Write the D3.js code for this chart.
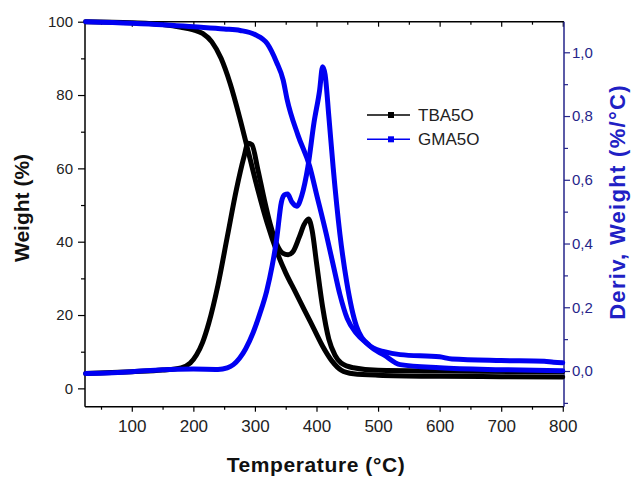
<!DOCTYPE html>
<html>
<head>
<meta charset="utf-8">
<script src="https://cdn.jsdelivr.net/npm/d3@7"></script>
<style>
  body { margin: 0; background: #fff; }
  svg { display: block; font-family: "Liberation Sans", Arial, sans-serif; }
</style>
</head>
<body>
<div class="chart-container"></div>
<script>
//! DATA  [temperature °C, value]
const tbaWeight = [
  [25, 100], [100, 99.7], [150, 99.2], [180, 98.5], [200, 97.8], [215, 96.8], [230, 94.5],
  [245, 90], [260, 83], [275, 74], [290, 64], [305, 54], [320, 45], [335, 37.5], [350, 31.5],
  [365, 26.5], [380, 21.5], [395, 16.5], [410, 11.5], [425, 7.5], [440, 5], [460, 4],
  [500, 3.6], [600, 3.3], [700, 3.2], [800, 3.1]
];
const gmaWeight = [
  [25, 100], [100, 99.6], [150, 99.2], [200, 98.6], [250, 98], [276, 97.6], [300, 96.5],
  [320, 94], [335, 89], [346, 84], [352, 79], [370, 69], [389, 60.5], [400, 53], [416, 42],
  [428, 33], [438, 25.6], [450, 19], [465, 15], [480, 12.5], [492, 11], [510, 10],
  [536, 9.2], [600, 8.6], [620, 8.0], [700, 7.6], [770, 7.4], [785, 7.1], [800, 7.0]
];
const tbaDeriv = [
  [25, -0.008], [100, -0.002], [150, 0.003], [180, 0.01], [195, 0.025], [205, 0.05],
  [215, 0.09], [225, 0.15], [240, 0.27], [255, 0.42], [270, 0.57], [282, 0.67], [289, 0.715],
  [295, 0.71], [305, 0.63], [315, 0.54], [325, 0.46], [335, 0.4], [345, 0.37], [354, 0.365],
  [362, 0.375], [372, 0.42], [380, 0.46], [387, 0.477], [393, 0.44], [400, 0.34], [410, 0.2],
  [420, 0.1], [430, 0.05], [440, 0.025], [460, 0.01], [500, 0.002], [600, 0], [800, -0.002]
];
const gmaDeriv = [
  [25, -0.008], [100, -0.002], [150, 0.004], [200, 0.006], [240, 0.005], [255, 0.01],
  [265, 0.02], [275, 0.04], [285, 0.07], [297, 0.12], [308, 0.18], [319, 0.25], [328, 0.33],
  [335, 0.41], [343, 0.53], [348, 0.553], [353, 0.555], [360, 0.53], [368, 0.517], [376, 0.55],
  [386, 0.64], [396, 0.78], [405, 0.88], [410, 0.955], [414, 0.93], [420, 0.8], [427, 0.64],
  [438, 0.43], [449, 0.28], [465, 0.14], [487, 0.078], [510, 0.05], [536, 0.02], [600, 0.01],
  [700, 0.004], [800, 0.001]
];
const seriesNames = ['TBA5O', 'GMA5O'];
const xTicks = [100, 200, 300, 400, 500, 600, 700, 800];
const xMinor = [50, 150, 250, 350, 450, 550, 650, 750];
const wTicks = [0, 20, 40, 60, 80, 100];
const wMinor = [10, 30, 50, 70, 90];
const dTicks = [0, 0.2, 0.4, 0.6, 0.8, 1.0];
const dMinor = [-0.1, 0.1, 0.3, 0.5, 0.7, 0.9];

//! CONSTS
const width = 631;
const height = 479;
const pL = 85, pR = 564, pT = 21.7, pB = 406.7;
const black = '#000';
const blue = '#0000f2';
const navy = '#25258a';

const svg = d3.select('.chart-container')
  .append('svg')
  .attr('width', width)
  .attr('height', height);

//! SCALES
const xScale = d3.scaleLinear().domain([24, 802]).range([pL, pR]);
const yW = d3.scaleLinear().domain([-5, 100]).range([pB, pT]);
const yD = d3.scaleLinear().domain([-0.112, 1.096]).range([pB, pT]);

//! AXES
const styleAxis = (g, col, size) => {
  g.select('.domain').remove();
  g.selectAll('line').attr('stroke', col).attr('stroke-width', 1.2);
  g.selectAll('text').attr('fill', col).style('font-size', size + 'px');
};

svg.append('g')
  .attr('transform', `translate(${pL},0)`)
  .call(d3.axisLeft(yW).tickValues(wTicks).tickSize(7).tickPadding(5).tickSizeOuter(0))
  .call(g => styleAxis(g, '#222', 15))
  .call(g => g.selectAll('line').attr('stroke', black));
svg.append('g')
  .attr('transform', `translate(${pL},0)`)
  .call(d3.axisLeft(yW).tickValues(wMinor).tickSize(4).tickFormat('').tickSizeOuter(0))
  .call(g => styleAxis(g, black, 1));

svg.append('g')
  .attr('transform', `translate(0,${pB})`)
  .call(d3.axisBottom(xScale).tickValues(xTicks).tickSize(5).tickPadding(8).tickSizeOuter(0))
  .call(g => styleAxis(g, '#222', 17))
  .call(g => g.selectAll('line').attr('stroke', black));
svg.append('g')
  .attr('transform', `translate(0,${pB})`)
  .call(d3.axisBottom(xScale).tickValues(xMinor).tickSize(3).tickFormat('').tickSizeOuter(0))
  .call(g => styleAxis(g, black, 1));

// top ticks pointing inward
svg.append('g')
  .attr('transform', `translate(0,${pT})`)
  .call(d3.axisBottom(xScale).tickValues(xTicks).tickSize(5).tickFormat('').tickSizeOuter(0))
  .call(g => styleAxis(g, black, 1));
svg.append('g')
  .attr('transform', `translate(0,${pT})`)
  .call(d3.axisBottom(xScale).tickValues(xMinor).tickSize(3).tickFormat('').tickSizeOuter(0))
  .call(g => styleAxis(g, black, 1));

svg.append('g')
  .attr('transform', `translate(${pR},0)`)
  .call(d3.axisRight(yD).tickValues(dTicks).tickSize(6).tickPadding(2).tickSizeOuter(0)
    .tickFormat(d => d3.format('.1f')(d).replace('.', ',')))
  .call(g => styleAxis(g, navy, 15));
svg.append('g')
  .attr('transform', `translate(${pR},0)`)
  .call(d3.axisRight(yD).tickValues(dMinor).tickSize(4).tickFormat('').tickSizeOuter(0))
  .call(g => styleAxis(g, navy, 1));

//! FRAME
const frame = svg.append('g').attr('stroke-width', 1.5);
frame.append('line').attr('x1', pL).attr('x2', pR).attr('y1', pT).attr('y2', pT).attr('stroke', black);
frame.append('line').attr('x1', pL).attr('x2', pR).attr('y1', pB).attr('y2', pB).attr('stroke', black);
frame.append('line').attr('x1', pL).attr('x2', pL).attr('y1', pT).attr('y2', pB).attr('stroke', black);
frame.append('line').attr('x1', pR).attr('x2', pR).attr('y1', pT).attr('y2', pB).attr('stroke', navy);

//! LINES
const plot = svg.append('g');
const lineW = d3.line().x(d => xScale(d[0])).y(d => yW(d[1])).curve(d3.curveMonotoneX);
const lineD = d3.line().x(d => xScale(d[0])).y(d => yD(d[1])).curve(d3.curveMonotoneX);

const drawLine = (data, gen, col) => plot.append('path')
  .datum(data)
  .attr('d', gen)
  .attr('fill', 'none')
  .attr('stroke', col)
  .attr('stroke-width', 5)
  .attr('stroke-linejoin', 'round')
  .attr('stroke-linecap', 'round');

drawLine(tbaWeight, lineW, black);
drawLine(tbaDeriv, lineD, black);
drawLine(gmaWeight, lineW, blue);
drawLine(gmaDeriv, lineD, blue);

//! LEGEND
const legend = svg.append('g');
[black, blue].forEach((col, i) => {
  const y = 115 + i * 24.3;
  legend.append('line')
    .attr('x1', 367).attr('x2', 410).attr('y1', y).attr('y2', y)
    .attr('stroke', col).attr('stroke-width', 1.5);
  legend.append('rect')
    .attr('x', 388).attr('y', y - 3).attr('width', 6).attr('height', 6)
    .attr('fill', col);
  legend.append('text')
    .attr('x', 418).attr('y', y + 6)
    .attr('fill', '#222')
    .style('font-size', '17px')
    .text(seriesNames[i]);
});

//! TITLES
svg.append('text')
  .attr('transform', `translate(316,472)`)
  .attr('text-anchor', 'middle')
  .style('font-size', '21px').style('font-weight', 'bold')
  .style('letter-spacing', '0.6px')
  .attr('fill', '#111')
  .text('Temperature (°C)');

svg.append('text')
  .attr('transform', `translate(29,208) rotate(-90)`)
  .attr('text-anchor', 'middle')
  .style('font-size', '21px').style('font-weight', 'bold')
  .attr('fill', '#111')
  .text('Weight (%)');

svg.append('text')
  .attr('transform', `translate(625,202) rotate(-90)`)
  .attr('text-anchor', 'middle')
  .style('font-size', '22px').style('font-weight', 'bold')
  .style('letter-spacing', '1.3px')
  .attr('fill', '#2020c4')
  .text('Deriv, Weight (%/°C)');
</script>
</body>
</html>
